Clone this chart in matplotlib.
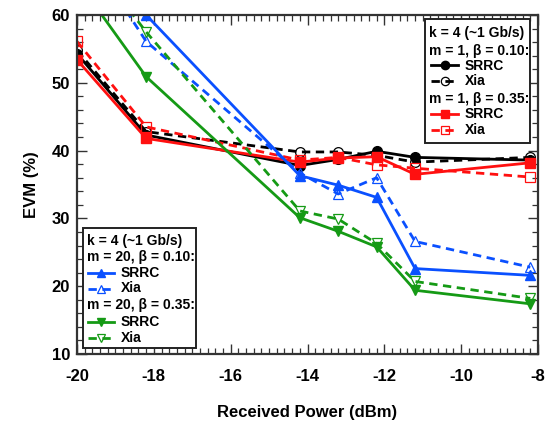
import numpy as np
import matplotlib
matplotlib.use("Agg")
import matplotlib.pyplot as plt
from matplotlib.lines import Line2D
from matplotlib.patches import Rectangle
from matplotlib.ticker import MultipleLocator

plt.rcParams["font.family"] = ["Liberation Sans", "DejaVu Sans"]
plt.rcParams["font.weight"] = "bold"
plt.rcParams["axes.unicode_minus"] = False

# received power (dBm)
power = [-20.0, -18.2, -14.2, -13.2, -12.2, -11.2, -8.2]

# m = 1
evm_m1_b010_srrc = [54.3, 42.3, 37.8, 38.7, 39.9, 39.0, 38.6]
evm_m1_b010_xia  = [54.8, 42.8, 39.8, 39.8, 39.3, 38.3, 39.0]
evm_m1_b035_srrc = [53.4, 41.8, 38.3, 38.9, 39.1, 36.5, 38.2]
evm_m1_b035_xia  = [56.1, 43.5, 38.6, 39.0, 37.9, 37.4, 36.1]

# m = 20
evm_m20_b010_srrc = [75.0, 60.0, 36.3, 34.9, 33.1, 22.6, 21.6]
evm_m20_b010_xia  = [71.8, 56.1, 36.7, 33.6, 36.0, 26.6, 22.8]
evm_m20_b035_srrc = [65.1, 50.9, 30.1, 28.1, 25.8, 19.4, 17.4]
evm_m20_b035_xia  = [70.8, 57.5, 31.1, 29.9, 26.3, 20.7, 18.2]

BLACK = "#000000"
RED = "#ff1010"
BLUE = "#0a50ff"
GREEN = "#159a15"

W, H = 546, 423
fig = plt.figure(figsize=(W / 100, H / 100), dpi=100)
AX_L, AX_R, AX_T, AX_B = 77, 538, 15, 354
ax = fig.add_axes([AX_L / W, 1 - AX_B / H, (AX_R - AX_L) / W, (AX_B - AX_T) / H])

LW = 2.0
MS = 7
DASH = (0, (3.0, 2.0))

series = [
    (evm_m1_b010_srrc, BLACK, "o", "-", True),
    (evm_m1_b010_xia, BLACK, "o", DASH, False),
    (evm_m1_b035_srrc, RED, "s", "-", True),
    (evm_m1_b035_xia, RED, "s", DASH, False),
    (evm_m20_b010_srrc, BLUE, "^", "-", True),
    (evm_m20_b010_xia, BLUE, "^", DASH, False),
    (evm_m20_b035_srrc, GREEN, "v", "-", True),
    (evm_m20_b035_xia, GREEN, "v", DASH, False),
]

for vals, col, mk, ls, filled in series:
    ax.plot(power, vals, color=col, lw=LW, ls=ls, marker=mk, ms=MS,
            mfc=col if filled else "none", mec=col, mew=1.0 if filled else 0.9)

ax.set_xlim(-20, -8)
ax.set_ylim(10, 60)
ax.xaxis.set_major_locator(MultipleLocator(2))
ax.xaxis.set_minor_locator(MultipleLocator(0.2))
ax.yaxis.set_major_locator(MultipleLocator(10))
ax.yaxis.set_minor_locator(MultipleLocator(2))
ax.tick_params(which="both", direction="in", top=True, right=True,
               labelsize=12, color="#333333")
ax.tick_params(axis="x", pad=11)
ax.tick_params(axis="y", pad=5)
ax.tick_params(which="major", length=7, width=1.0)
ax.tick_params(which="minor", length=4, width=0.9)
for s in ax.spines.values():
    s.set_linewidth(1.6)
    s.set_color("#333333")
for lab in ax.get_xticklabels() + ax.get_yticklabels():
    lab.set_fontweight("bold")

ax.set_xlabel("Received Power (dBm)", fontsize=12, fontweight="bold", labelpad=15)
ax.set_ylabel("EVM (%)", fontsize=12, fontweight="bold", labelpad=9)


def px(x, y):
    # pixel position -> axes fraction
    return (x - AX_L) / (AX_R - AX_L), (AX_B - y) / (AX_B - AX_T)


def legend_box(x0, y0, x1, y1, text_x, line_x0, line_x1, entry_x, rows):
    (ax0, ay0), (ax1, ay1) = px(x0, y1), px(x1, y0)
    ax.add_patch(Rectangle((ax0, ay0), ax1 - ax0, ay1 - ay0, transform=ax.transAxes,
                           fc="white", ec="#222222", lw=1.4, zorder=5, clip_on=False))
    for y, label, style in rows:
        if style is None:
            tx, ty = px(text_x, y)
            ax.text(tx, ty, label, transform=ax.transAxes, fontsize=10,
                    fontweight="bold", va="center", ha="left", zorder=6)
        else:
            col, mk, ls, filled = style
            lx0, ly = px(line_x0, y)
            lx1, _ = px(line_x1, y)
            ax.add_line(Line2D([lx0, lx1], [ly, ly], transform=ax.transAxes,
                               color=col, lw=LW, ls=ls, zorder=6, clip_on=False))
            ax.add_line(Line2D([(lx0 + lx1) / 2], [ly], transform=ax.transAxes,
                               color=col, marker=mk, ms=MS - 1,
                               mfc=col if filled else "none", mec=col,
                               mew=1.0 if filled else 0.9, zorder=7, clip_on=False))
            tx, ty = px(entry_x, y)
            ax.text(tx, ty, label, transform=ax.transAxes, fontsize=10,
                    fontweight="bold", va="center", ha="left", zorder=6)


legend_box(425, 19, 530, 143, 429, 431, 458, 465, [
    (33, "k = 4 (~1 Gb/s)", None),
    (50.5, "m = 1, \u03b2 = 0.10:", None),
    (65.5, "SRRC", (BLACK, "o", "-", True)),
    (81, "Xia", (BLACK, "o", DASH, False)),
    (99, "m = 1, \u03b2 = 0.35:", None),
    (114.5, "SRRC", (RED, "s", "-", True)),
    (130.5, "Xia", (RED, "s", DASH, False)),
])

legend_box(83, 228, 196, 348, 87, 88, 114, 121, [
    (241, "k = 4 (~1 Gb/s)", None),
    (257.5, "m = 20, \u03b2 = 0.10:", None),
    (273, "SRRC", (BLUE, "^", "-", True)),
    (288.5, "Xia", (BLUE, "^", DASH, False)),
    (305.5, "m = 20, \u03b2 = 0.35:", None),
    (321.5, "SRRC", (GREEN, "v", "-", True)),
    (337.5, "Xia", (GREEN, "v", DASH, False)),
])

fig.savefig("out.png", dpi=100)
